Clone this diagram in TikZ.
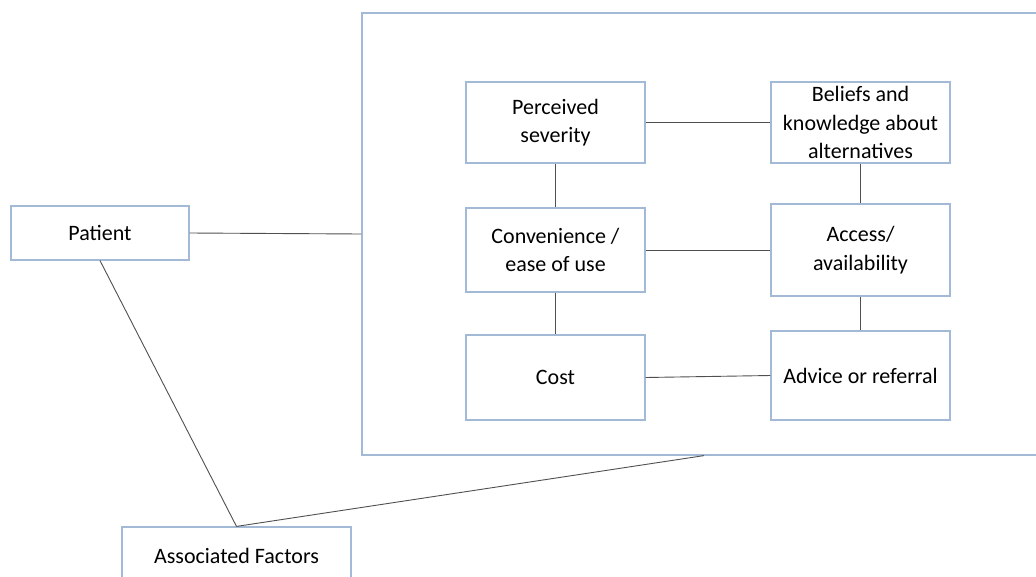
\documentclass[tikz,border=0pt]{standalone}
\usepackage{fontspec}
\setmainfont{Carlito}
\definecolor{boxline}{HTML}{A3BAD6}
\definecolor{conn}{HTML}{505050}
\begin{document}
\begin{tikzpicture}[x=1pt,y=-1pt,
  box/.style={draw=boxline,line width=1.2pt,fill=white,align=center,inner sep=0pt,
    font=\fontsize{22}{28.5}\selectfont},
  link/.style={draw=conn,line width=0.9pt}]
\useasboundingbox (0,0) rectangle (1036,576);
\clip (0,0) rectangle (1036,576);
\fill[white] (0,0) rectangle (1036,576);
\node[box,minimum width=684pt,minimum height=442pt] (big) at (704,234) {};
\node[box,minimum width=178pt,minimum height=54pt] (patient) at (100,233) {Patient};
\node[box,minimum width=229pt,minimum height=58pt] (af) at (236.5,556) {Associated Factors};
\node[box,minimum width=179pt,minimum height=81pt] (ps) at (555.5,122.5) {Perceived\\severity};
\node[box,minimum width=179pt,minimum height=81pt] (bk) at (860.5,122.5) {Beliefs and\\knowledge about\\alternatives};
\node[box,minimum width=179pt,minimum height=84pt] (cv) at (555.5,250) {Convenience /\\ease of use};
\node[box,minimum width=179pt,minimum height=92pt] (ac) at (860.5,250) {Access/\\availability};
\node[box,minimum width=179pt,minimum height=85pt] (co) at (555.5,377.5) {Cost};
\node[box,minimum width=179pt,minimum height=89pt] (ad) at (860.5,375.5) {Advice or referral};
\draw[link] (patient.east) -- (big.west);
\draw[link] (patient.south) -- (af.north);
\draw[link] (af.north) -- (big.south);
\draw[link] (ps.east) -- (bk.west);
\draw[link] (ps.south) -- (cv.north);
\draw[link] (bk.south) -- (ac.north);
\draw[link] (cv.east) -- (ac.west);
\draw[link] (cv.south) -- (co.north);
\draw[link] (ac.south) -- (ad.north);
\draw[link] (co.east) -- (ad.west);
\end{tikzpicture}
\end{document}
